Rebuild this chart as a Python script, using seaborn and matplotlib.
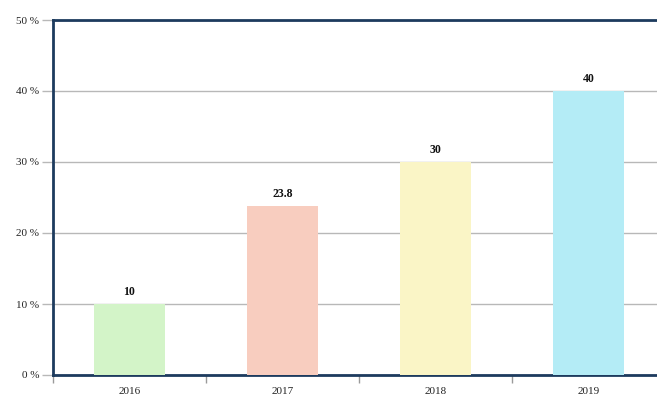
import matplotlib
matplotlib.use("Agg")
import matplotlib.pyplot as plt
import seaborn as sns
import pandas as pd
from matplotlib.ticker import FixedLocator

years = ["2016", "2017", "2018", "2019"]
values = [10, 23.8, 30, 40]
value_labels = ["10", "23.8", "30", "40"]
colors = ["#d3f4c8", "#f8cdbf", "#faf5c6", "#b4ecf6"]
y_ticks = [0, 10, 20, 30, 40, 50]
y_tick_labels = ["0 %", "10 %", "20 %", "30 %", "40 %", "50 %"]

sns.set_theme(style="white")
plt.rcParams["font.family"] = ["Liberation Serif", "DejaVu Serif"]

df = pd.DataFrame({"year": years, "value": values})

fig = plt.figure(figsize=(6.57, 3.98), dpi=100)
ax = fig.add_axes([53 / 657, 23 / 398, 612 / 657, 355 / 398])

sns.barplot(data=df, x="year", y="value", hue="year", palette=colors,
            width=0.47, legend=False, ax=ax, saturation=1, zorder=3,
            linewidth=0)

ax.set_xlim(-0.5, 3.5)
ax.set_ylim(0, 50)
ax.set_yticks(y_ticks)
ax.set_yticklabels(y_tick_labels)
ax.yaxis.grid(True, color="#b8b8b8", linewidth=1.0, zorder=0)
ax.set_axisbelow(True)
ax.tick_params(axis="y", which="major", length=8, color="#b8b8b8", width=1,
               labelsize=8, pad=2, labelcolor="#222222", left=True)
ax.tick_params(axis="x", which="major", length=0, labelsize=8, pad=9,
               labelcolor="#222222")
ax.xaxis.set_minor_locator(FixedLocator([-0.5, 0.5, 1.5, 2.5]))
ax.tick_params(axis="x", which="minor", length=6, color="#9a9a9a", width=1,
               bottom=True, direction="out")
ax.set_xlabel("")
ax.set_ylabel("")

for side in ["left", "top", "bottom"]:
    ax.spines[side].set_color("#1d3b5e")
    ax.spines[side].set_linewidth(2)
ax.spines["right"].set_visible(False)

for i, (v, lab) in enumerate(zip(values, value_labels)):
    ax.annotate(lab, (i, v), xytext=(0, 4), textcoords="offset points",
                ha="center", va="bottom", fontsize=8.5, fontweight="bold",
                color="#111111")

fig.savefig("out.png", dpi=100)
